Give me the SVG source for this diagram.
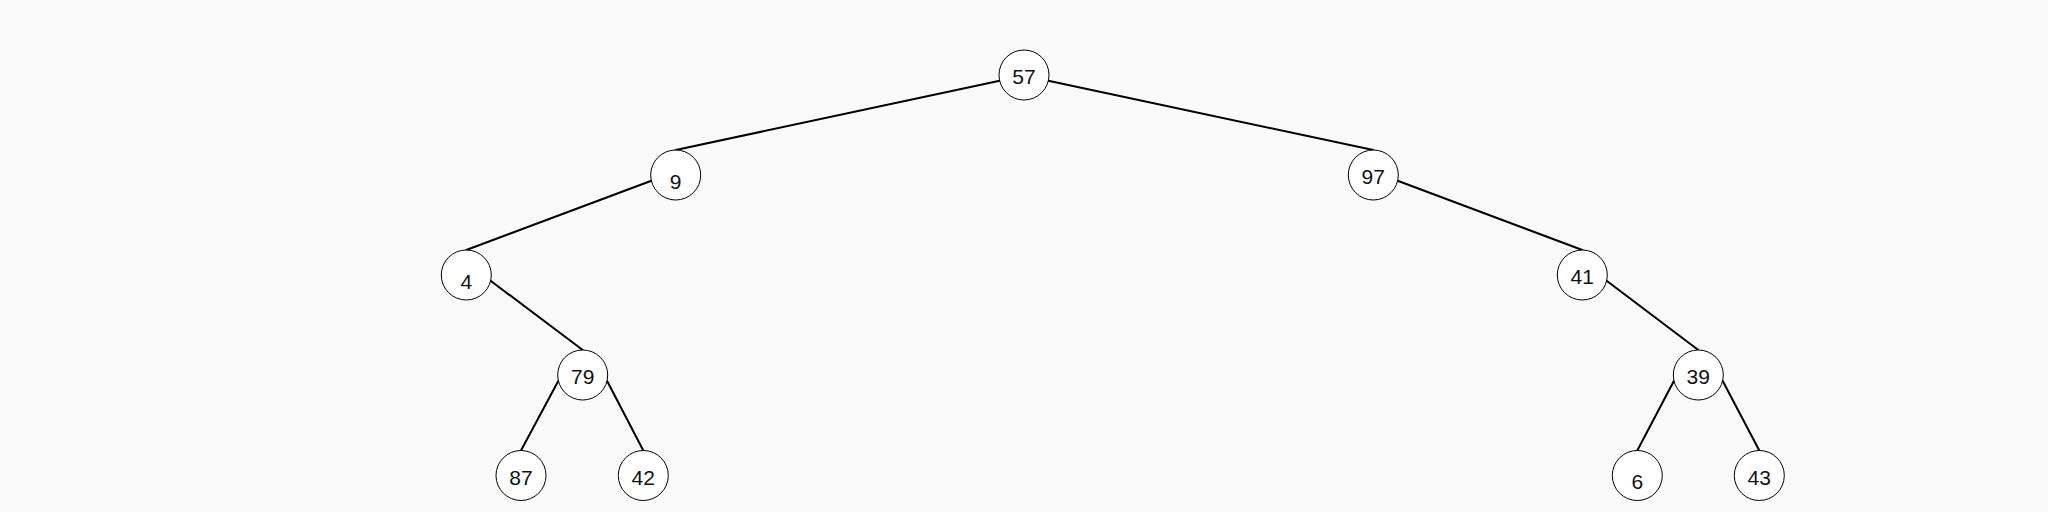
<svg xmlns="http://www.w3.org/2000/svg" width="2048" height="512" viewBox="0 0 2048 512">
<style>
.bg{fill:#fafafa}
.edge{stroke:#000;stroke-width:2;fill:none;stroke-linecap:round}
.node circle{fill:#fff;stroke:#000;stroke-width:1}
.node text{font-family:"Liberation Sans",Arial,sans-serif;font-size:21px;fill:#111;text-anchor:middle}
</style>
<rect class="bg" x="0" y="0" width="2048" height="512"/>
<g id="connectors">
<line class="edge" x1="999.7" y1="80.8" x2="675.7" y2="150"/>
<line class="edge" x1="1048.3" y1="80.8" x2="1373.3" y2="150"/>
<line class="edge" x1="651.4" y1="180.8" x2="466.3" y2="250"/>
<line class="edge" x1="1397.6" y1="180.8" x2="1582.3" y2="250"/>
<line class="edge" x1="490.6" y1="280.8" x2="582.7" y2="350"/>
<line class="edge" x1="1606.6" y1="280.8" x2="1698.3" y2="350"/>
<line class="edge" x1="558.4" y1="380.8" x2="521" y2="450.5"/>
<line class="edge" x1="607" y1="380.8" x2="643.3" y2="450.5"/>
<line class="edge" x1="1674" y1="380.8" x2="1637.3" y2="450.5"/>
<line class="edge" x1="1722.6" y1="380.8" x2="1759.3" y2="450.5"/>
</g>
<g id="n57" class="node"><circle cx="1024" cy="75" r="25"/><text x="1024" y="84.3">57</text></g>
<g id="n9" class="node"><circle cx="675.7" cy="175" r="25"/><text x="675.7" y="188.5">9</text></g>
<g id="n97" class="node"><circle cx="1373.3" cy="175" r="25"/><text x="1373.3" y="184.3">97</text></g>
<g id="n4" class="node"><circle cx="466.3" cy="275" r="25"/><text x="466.3" y="288.5">4</text></g>
<g id="n41" class="node"><circle cx="1582.3" cy="275" r="25"/><text x="1582.3" y="284.3">41</text></g>
<g id="n79" class="node"><circle cx="582.7" cy="375" r="25"/><text x="582.7" y="384.3">79</text></g>
<g id="n39" class="node"><circle cx="1698.3" cy="375" r="25"/><text x="1698.3" y="384.3">39</text></g>
<g id="n87" class="node"><circle cx="521" cy="475.5" r="25"/><text x="521" y="484.8">87</text></g>
<g id="n42" class="node"><circle cx="643.3" cy="475.5" r="25"/><text x="643.3" y="484.8">42</text></g>
<g id="n6" class="node"><circle cx="1637.3" cy="475.5" r="25"/><text x="1637.3" y="489">6</text></g>
<g id="n43" class="node"><circle cx="1759.3" cy="475.5" r="25"/><text x="1759.3" y="484.8">43</text></g>
</svg>
